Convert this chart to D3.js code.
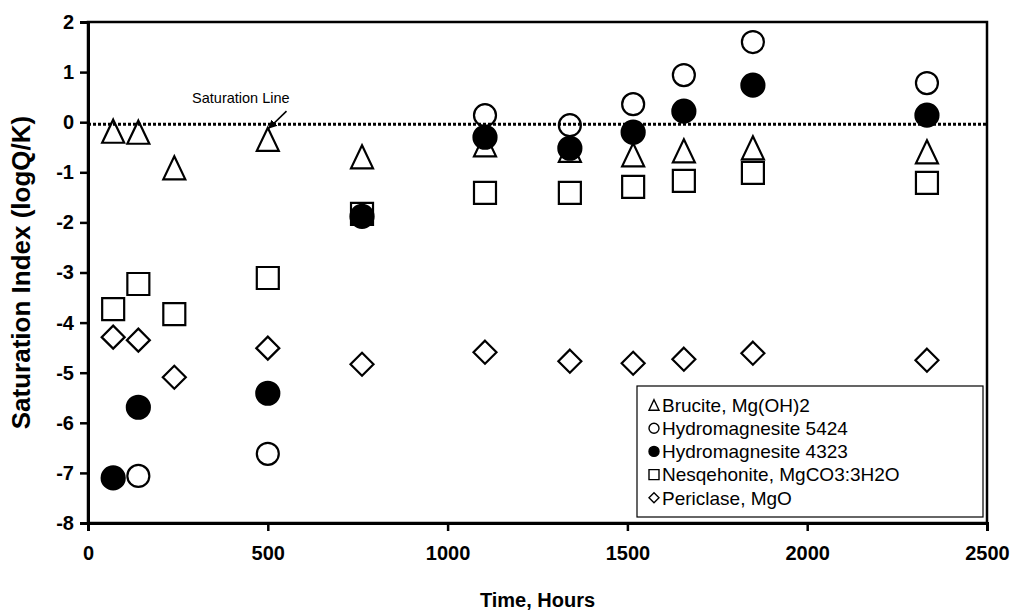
<!DOCTYPE html>
<html>
<head>
<meta charset="utf-8">
<script src="https://cdn.jsdelivr.net/npm/d3@7"></script>
<style>
  body { margin: 0; background: #fff; }
  text { font-family: "Liberation Sans", Arial, sans-serif; fill: #000; }
</style>
</head>
<body>
<svg id="chart" width="1014" height="614"></svg>
<script>
// sample times (hours)
var hours = [70, 140, 240, 500, 762, 1104, 1340, 1516, 1657, 1849, 2333];

// saturation index values, null where no marker is drawn
var brucite   = [-0.18, -0.20, -0.91, -0.34, -0.69, -0.45, -0.56, -0.65, -0.57, -0.51, -0.59];
var hydro5424 = [null, -7.06, null, -6.62, null, 0.14, -0.06, 0.36, 0.94, 1.60, 0.78];
var hydro4323 = [-7.10, -5.69, null, -5.41, -1.88, -0.30, -0.52, -0.20, 0.22, 0.74, 0.14];
var nesq      = [-3.73, -3.23, -3.83, -3.11, -1.83, -1.41, -1.41, -1.29, -1.17, -1.01, -1.21];
var periclase = [-4.29, -4.35, -5.09, -4.51, -4.83, -4.59, -4.77, -4.81, -4.73, -4.61, -4.75];

var seriesNames = ["Brucite, Mg(OH)2", "Hydromagnesite 5424", "Hydromagnesite 4323",
                   "Nesqehonite, MgCO3:3H2O", "Periclase, MgO"];
var xTicks = [0, 500, 1000, 1500, 2000, 2500];
var yTicks = [2, 1, 0, -1, -2, -3, -4, -5, -6, -7, -8];
var saturation = 0;

var svg = d3.select("#chart"),
    width = +svg.attr("width"),
    height = +svg.attr("height");
var margin = {top: 22, right: 27, bottom: 91, left: 88};

var x = d3.scaleLinear().domain([0, 2500]).range([margin.left, width - margin.right]);
var y = d3.scaleLinear().domain([-8, 2]).range([height - margin.bottom, margin.top]);

// custom marker shapes (size = half width)
var triangle = { draw: function(c, s) { c.moveTo(0, -s * 1.05); c.lineTo(s, s * 1.05); c.lineTo(-s, s * 1.05); c.closePath(); } };
var diamond  = { draw: function(c, s) { c.moveTo(0, -s); c.lineTo(s, 0); c.lineTo(0, s); c.lineTo(-s, 0); c.closePath(); } };
var circle   = { draw: function(c, s) { c.moveTo(s, 0); c.arc(0, 0, s, 0, 2 * Math.PI); } };
var square   = { draw: function(c, s) { c.rect(-s, -s, 2 * s, 2 * s); } };

var series = [
  {name: seriesNames[0], values: brucite,   type: triangle, size: 11,   fill: "none"},
  {name: seriesNames[1], values: hydro5424, type: circle,   size: 11,   fill: "none"},
  {name: seriesNames[2], values: hydro4323, type: circle,   size: 11.5, fill: "#000"},
  {name: seriesNames[3], values: nesq,      type: square,   size: 11,   fill: "none"},
  {name: seriesNames[4], values: periclase, type: diamond,  size: 11.5, fill: "none"}
];

var fmt = function(d) { return String(d); };

// saturation line
svg.append("line")
    .attr("x1", x(0)).attr("x2", x(2500))
    .attr("y1", y(saturation) + 2).attr("y2", y(saturation) + 2)
    .attr("stroke", "#000").attr("stroke-width", 3)
    .attr("stroke-dasharray", "3,2");

// markers
series.forEach(function(s) {
  var pts = hours.map(function(h, i) { return {h: h, v: s.values[i]}; })
                 .filter(function(d) { return d.v !== null; });
  svg.append("g").selectAll("path")
    .data(pts)
    .enter().append("path")
      .attr("transform", function(d) { return "translate(" + x(d.h) + "," + y(d.v) + ")"; })
      .attr("d", d3.symbol().type(s.type).size(s.size))
      .attr("fill", s.fill)
      .attr("stroke", "#000")
      .attr("stroke-width", 2.2);
});

// frame
svg.append("rect")
    .attr("x", x(0)).attr("y", y(2))
    .attr("width", x(2500) - x(0)).attr("height", y(-8) - y(2))
    .attr("fill", "none").attr("stroke", "#000").attr("stroke-width", 2.5);

// axes
var xAxis = svg.append("g")
    .attr("transform", "translate(0," + y(-8) + ")")
    .call(d3.axisBottom(x).tickValues(xTicks).tickFormat(fmt).tickSize(8).tickPadding(15));
var yAxis = svg.append("g")
    .attr("transform", "translate(" + x(0) + ",0)")
    .call(d3.axisLeft(y).tickValues(yTicks).tickFormat(fmt).tickSize(8).tickPadding(6));
[xAxis, yAxis].forEach(function(a) {
  a.select(".domain").attr("stroke-width", 3);
  a.selectAll(".tick line").attr("stroke-width", 2.5);
  a.selectAll(".tick text")
    .style("font-size", "20px").style("font-weight", "bold")
    .style("font-family", "'Liberation Sans', Arial, sans-serif");
});

// axis titles
svg.append("text")
    .attr("x", (x(0) + x(2500)) / 2).attr("y", 607)
    .attr("text-anchor", "middle")
    .style("font-size", "20px").style("font-weight", "bold")
    .text("Time, Hours");
svg.append("text")
    .attr("transform", "translate(30," + (y(-8) + y(2)) / 2 + ") rotate(-90)")
    .attr("text-anchor", "middle")
    .style("font-size", "26px").style("font-weight", "bold")
    .text("Saturation Index (logQ/K)");

// annotation
svg.append("defs").append("marker")
    .attr("id", "arrow").attr("viewBox", "0 0 10 10")
    .attr("refX", 9).attr("refY", 5)
    .attr("markerWidth", 5.5).attr("markerHeight", 6.5)
    .attr("orient", "auto")
  .append("path").attr("d", "M0,0L10,5L0,10z").attr("fill", "#000");
svg.append("text")
    .attr("x", x(425)).attr("y", y(0.38))
    .attr("text-anchor", "middle")
    .style("font-size", "14.5px")
    .text("Saturation Line");
svg.append("line")
    .attr("x1", x(552)).attr("y1", y(0.22))
    .attr("x2", x(503)).attr("y2", y(-0.12))
    .attr("stroke", "#000").attr("stroke-width", 1.6)
    .attr("marker-end", "url(#arrow)");

// legend
var lg = svg.append("g").attr("transform", "translate(637,386)");
lg.append("rect")
    .attr("width", 346).attr("height", 131)
    .attr("fill", "#fff").attr("stroke", "#000").attr("stroke-width", 1.2);
series.forEach(function(s, i) {
  var row = lg.append("g").attr("transform", "translate(17," + (19 + i * 23.2) + ")");
  row.append("path")
      .attr("d", d3.symbol().type(s.type).size(5))
      .attr("fill", s.fill).attr("stroke", "#000").attr("stroke-width", 1.4);
  row.append("text")
      .attr("x", 8).attr("dy", "0.36em")
      .style("font-size", "19px")
      .text(s.name);
});
</script>
</body>
</html>
